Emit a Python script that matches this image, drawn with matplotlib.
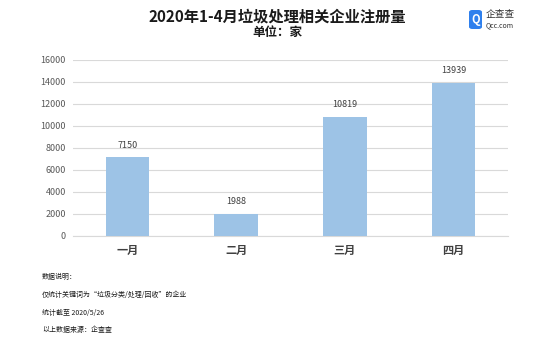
import matplotlib
matplotlib.use("Agg")
import matplotlib.pyplot as plt
from matplotlib.patches import FancyBboxPatch

plt.rcParams['font.family'] = ['Noto Sans CJK SC', 'DejaVu Sans']

months = ["一月", "二月", "三月", "四月"]
counts = [7150, 1988, 10819, 13939]
y_ticks = [0, 2000, 4000, 6000, 8000, 10000, 12000, 14000, 16000]
title = "2020年1-4月垃圾处理相关企业注册量"
subtitle = "单位：家"
notes = ["数据说明：", "仅统计关键词为“垃圾分类/处理/回收”的企业", "统计截至 2020/5/26", "以上数据来源：企查查"]

fig = plt.figure(figsize=(5.54, 3.46), dpi=100)
ax = fig.add_axes([0.1318, 0.318, 0.785, 0.5087])

x = range(len(months))
ax.bar(x, counts, width=0.4, color="#9DC3E6", zorder=3)
for xi, v in zip(x, counts):
    ax.text(xi, v + 700, str(v), ha="center", va="bottom", fontsize=6.5, color="#404040")

ax.set_xlim(-0.5, len(months) - 0.5)
ax.set_ylim(0, 16000)
ax.set_yticks(y_ticks)
ax.set_yticklabels([str(t) for t in y_ticks], fontsize=6.5, color="#595959")
ax.set_xticks(list(x))
ax.set_xticklabels(months, fontsize=8, color="#404040", fontweight="bold")
ax.grid(axis="y", color="#D9D9D9", linewidth=0.8, zorder=0)
for s in ["top", "right", "left"]:
    ax.spines[s].set_visible(False)
ax.spines["bottom"].set_color("#D9D9D9")
ax.tick_params(axis="both", length=0)
ax.tick_params(axis="y", pad=5)
ax.tick_params(axis="x", pad=6)

fig.text(0.5, 0.952, title, ha="center", va="center", fontsize=11, fontweight="bold", color="#1a1a1a")
fig.text(0.5, 0.905, subtitle, ha="center", va="center", fontsize=9, fontweight="bold", color="#1a1a1a")

note_y = [277, 295, 313, 330]
for t, py in zip(notes, note_y):
    fig.text(42 / 554, 1 - py / 346, t, ha="left", va="center", fontsize=5, color="#1a1a1a")

# brand mark in the top-right corner
logo = FancyBboxPatch((469 / 554, 1 - 29 / 346), 13 / 554, 19 / 346,
                      boxstyle="round,pad=0,rounding_size=0.006",
                      transform=fig.transFigure, facecolor="#2F80ED", edgecolor="none")
fig.add_artist(logo)
fig.text(475.5 / 554, 1 - 19 / 346, "Q", ha="center", va="center", fontsize=8,
         color="white", fontweight="bold")
fig.text(486 / 554, 1 - 14 / 346, "企查查", ha="left", va="center", fontsize=7, color="#333333")
fig.text(486 / 554, 1 - 25 / 346, "Qcc.com", ha="left", va="center", fontsize=5, color="#333333")

fig.savefig("out.png", dpi=100)
